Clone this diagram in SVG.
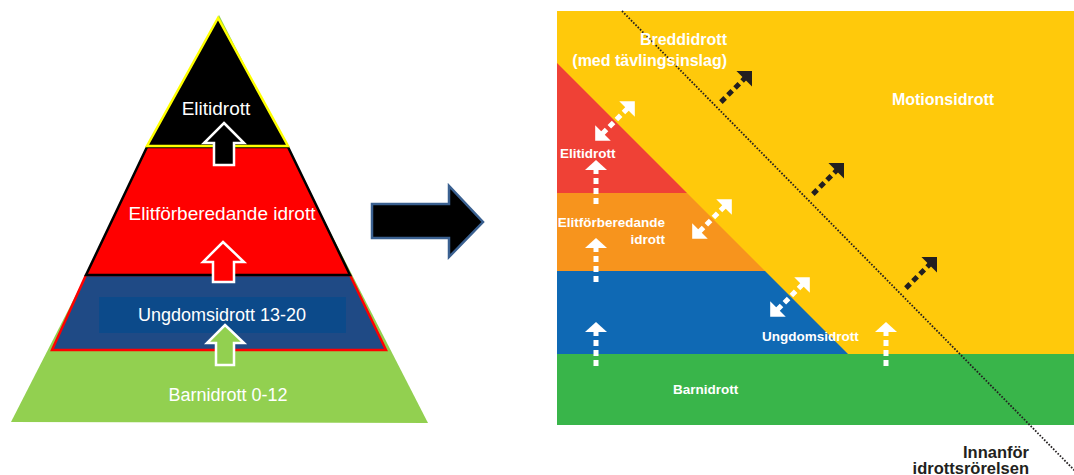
<svg xmlns="http://www.w3.org/2000/svg" width="1074" height="475" viewBox="0 0 1074 475">
<style>
.lt{font-family:"Liberation Sans",Arial,sans-serif;fill:#fff;text-anchor:middle}
.rt{font-family:"Liberation Sans",Arial,sans-serif;font-weight:bold;fill:#fff}
.wd{stroke:#fff;stroke-width:5;stroke-dasharray:6 4;fill:none}
.bd{stroke:#231f20;stroke-width:5;stroke-dasharray:6 4;fill:none}
.wh{fill:#fff}
.bh{fill:#231f20}
</style>
<defs>
<g id="wup"><line class="wd" x1="-44" y1="0" x2="-10" y2="0"/><polygon class="wh" points="0,0 -10,-11 -10,11"/></g>
<g id="bup"><line class="bd" x1="-44" y1="0" x2="-10" y2="0"/><polygon class="bh" points="0,0 -11,-11 -11,11"/></g>
<g id="wdbl"><line class="wd" x1="-18" y1="0" x2="18" y2="0"/><polygon class="wh" points="28,0 17,-11 17,11"/><polygon class="wh" points="-28,0 -17,-11 -17,11"/></g>
</defs>
<rect width="1074" height="475" fill="#fff"/>

<g id="pyramid">
<g id="barnidrott-l">
<polygon points="219,15 11,422 428,423" fill="#92d050"/>
<text class="lt" x="228" y="401" font-size="18">Barnidrott 0-12</text>
</g>
<g id="ungdom-l">
<polygon points="86,275 350,275 386,350 52,350" fill="#1f4a85" stroke="#ff0000" stroke-width="2.5"/>
<rect x="99" y="297" width="247" height="36" fill="#0c4a8a"/>
<text class="lt" x="222" y="321" font-size="18">Ungdomsidrott 13-20</text>
</g>
<g id="elitforb-l">
<polygon points="147,147 288,147 350,275 86,275" fill="#ff0000" stroke="#000" stroke-width="2.5"/>
<text class="lt" x="222" y="220" font-size="19">Elitförberedande idrott</text>
</g>
<g id="elit-l">
<polygon points="218,18 288,146 147,146" fill="#000" stroke="#ffff00" stroke-width="2.5"/>
<text class="lt" x="216" y="115" font-size="19">Elitidrott</text>
</g>
<g id="pyr-arrows">
<polygon points="224,123 244,143 234,143 234,165 214,165 214,143 204,143" fill="#000" stroke="#fff" stroke-width="2.5"/>
<polygon points="223,242 244,262 234,262 234,282 213,282 213,262 203,262" fill="#ff0000" stroke="#fff" stroke-width="2.5"/>
<polygon points="225,325 244,343 234,343 234,365 216,365 216,343 207,343" fill="#92d050" stroke="#fff" stroke-width="2.5"/>
</g>
</g>

<g id="big-arrow">
<polygon points="372,204 449,204 449,186 483,222 449,257 449,238 372,238" fill="#000" stroke="#3a6090" stroke-width="2.5"/>
</g>

<g id="panel">
<rect x="557" y="11" width="517" height="414" fill="#ffc90b"/>
<g id="elit-r">
<polygon points="557,63 687,193 557,193" fill="#ef4136"/>
<text class="rt" x="560" y="158" font-size="13.5">Elitidrott</text>
</g>
<g id="elitforb-r">
<polygon points="557,193 687,193 765,271 557,271" fill="#f7941d"/>
<text class="rt" x="665" y="227" font-size="13.5" text-anchor="end">Elitförberedande</text>
<text class="rt" x="665" y="244" font-size="13.5" text-anchor="end">idrott</text>
</g>
<g id="ungdom-r">
<polygon points="557,271 765,271 848,354 557,354" fill="#0f69b4"/>
<text class="rt" x="762" y="341" font-size="13.5">Ungdomsidrott</text>
</g>
<g id="barn-r">
<rect x="557" y="354" width="517" height="71" fill="#39b54a"/>
<text class="rt" x="673" y="394" font-size="13.5">Barnidrott</text>
</g>
</g>

<g id="connectors">
<line x1="622" y1="11" x2="1080" y2="476" stroke="#231f20" stroke-width="1.8" stroke-dasharray="1.6 1.6"/>
<use href="#wup" transform="translate(596,160) rotate(-90)"/>
<use href="#wup" transform="translate(596,238) rotate(-90)"/>
<use href="#wup" transform="translate(596,322) rotate(-90)"/>
<use href="#wup" transform="translate(886,322) rotate(-90)"/>
<use href="#wdbl" transform="translate(615,121) rotate(-45)"/>
<use href="#wdbl" transform="translate(712,219) rotate(-45)"/>
<use href="#wdbl" transform="translate(790,297) rotate(-45)"/>
<use href="#bup" transform="translate(752,71) rotate(-45)"/>
<use href="#bup" transform="translate(844,163) rotate(-45)"/>
<use href="#bup" transform="translate(937,257) rotate(-45)"/>
</g>

<g id="bredd">
<text class="rt" x="727" y="45" font-size="16" text-anchor="end">Breddidrott</text>
<text class="rt" x="727" y="66" font-size="16" text-anchor="end">(med tävlingsinslag)</text>
</g>
<g id="motion">
<text class="rt" x="943" y="105" font-size="16" text-anchor="middle">Motionsidrott</text>
</g>

<g id="innanfor">
<text x="1029" y="458" font-family="Liberation Sans, Arial, sans-serif" font-weight="bold" font-size="16.5" fill="#231f20" text-anchor="end">Innanför</text>
<text x="1029" y="474" font-family="Liberation Sans, Arial, sans-serif" font-weight="bold" font-size="16.5" fill="#231f20" text-anchor="end">idrottsrörelsen</text>
</g>
</svg>
